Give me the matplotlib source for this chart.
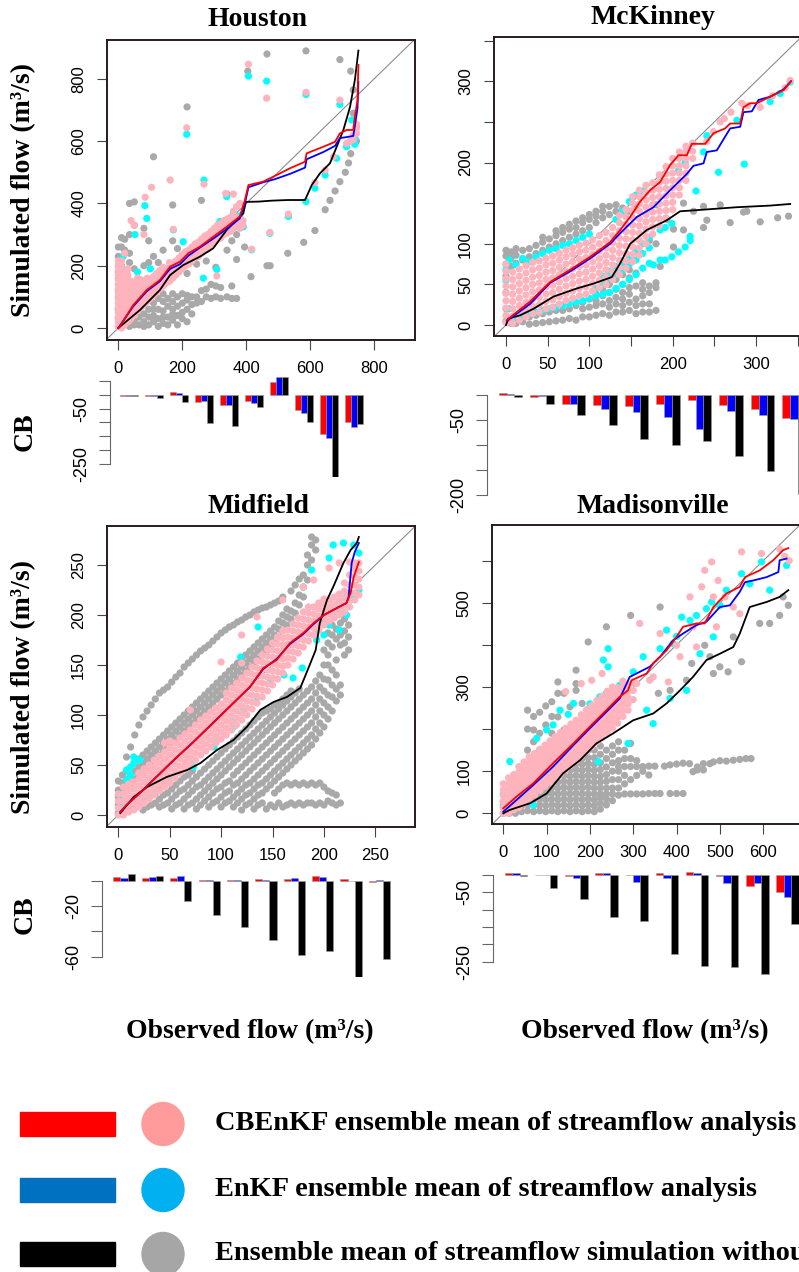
import matplotlib
matplotlib.use('Agg')
import matplotlib.pyplot as plt
from matplotlib.patches import Rectangle, Ellipse
import numpy as np

plt.rcParams['font.family'] = ['Liberation Sans', 'DejaVu Sans']

# ---------------- DATA ----------------
# Houston  (observed x : list of simulated y)
hou_gray = {0: [5, 30, 60, 120, 180, 230, 260], 10: [15, 60, 100, 140, 200, 260, 290],
            20: [15, 40, 90, 170, 250, 285], 35: [5, 30, 50, 210, 240, 300, 400],
            50: [10, 25, 130, 190, 330, 405], 65: [10, 35, 60, 100, 150], 80: [5, 20, 45, 75, 200, 320],
            95: [10, 35, 60, 90, 210, 280], 110: [20, 40, 60, 80, 110, 230, 550],
            125: [5, 30, 60, 95, 135, 210], 140: [15, 35, 55, 85, 110, 250], 155: [10, 35, 70, 95, 190],
            170: [25, 45, 60, 85, 110, 280, 395], 185: [10, 40, 70, 100, 255], 200: [30, 50, 80, 110, 235],
            215: [20, 60, 90, 105, 175, 710], 230: [45, 75, 100, 215], 245: [80, 100, 205],
            260: [85, 120, 410], 275: [100, 125, 215], 290: [95, 140], 305: [100, 135, 195],
            320: [95, 130, 290], 340: [100, 250, 430], 355: [95, 135, 280], 370: [95, 220, 300],
            395: [260], 405: [825], 415: [165], 465: [880, 200], 475: [200], 530: [240], 580: [275],
            587: [890], 615: [313], 647: [380], 662: [410], 678: [440], 693: [470, 862], 710: [500],
            720: [530], 727: [825, 560], 735: [605, 765, 690], 745: [645, 600]}
hou_cyan = {0: [60, 100, 160, 200], 5: [130], 15: [40, 230], 25: [80, 185], 40: [60, 110], 52: [300],
            60: [90, 180], 83: [393, 110], 89: [352], 100: [130, 190], 120: [150], 140: [160],
            160: [180], 172: [315], 180: [200], 203: [277, 220], 214: [622], 230: [240], 260: [260],
            266: [160], 268: [475], 290: [290], 308: [188], 318: [342, 320], 339: [422, 345],
            360: [368, 355], 380: [360], 391: [325], 407: [809], 417: [251], 464: [793], 474: [304],
            532: [358], 587: [750, 406], 615: [449], 647: [491], 683: [545], 693: [718], 714: [582],
            730: [668, 600], 740: [610, 590]}
hou_pink = {0: [5, 20, 35, 50, 65, 80, 95, 110, 125, 140, 155, 170, 185, 200, 215],
            10: [0, 15, 30, 45, 60, 75, 90, 105, 120, 135, 150, 165, 180, 195, 215],
            20: [10, 25, 40, 55, 70, 85, 100, 115, 130, 145, 160, 175, 240],
            30: [20, 35, 50, 65, 80, 95, 110, 125, 140, 155, 170, 190],
            40: [30, 45, 60, 75, 90, 105, 120, 135, 150, 345], 50: [40, 55, 70, 85, 100, 115, 130, 145, 330],
            60: [55, 70, 85, 100, 115, 130, 145, 160], 70: [65, 80, 95, 110, 125, 140, 155],
            80: [75, 90, 105, 120, 135, 150, 300], 84: [420], 90: [85, 100, 115, 130, 145, 160],
            100: [95, 110, 125, 140, 155], 104: [452], 110: [105, 120, 135, 150, 165],
            120: [115, 130, 145, 160, 175], 130: [125, 140, 155, 170, 185], 140: [135, 150, 165, 180, 195],
            150: [145, 160, 175, 190], 160: [150, 165, 180, 195, 210], 162: [475], 170: [160, 175, 190, 205],
            172: [317], 180: [170, 185, 200, 215], 190: [180, 195, 210, 225], 200: [190, 205, 220, 235],
            210: [200, 215, 230, 245], 214: [643], 220: [205, 220, 235, 250], 230: [215, 230, 245, 260],
            240: [225, 240, 255, 270], 250: [230, 245, 260, 275], 260: [240, 255, 270, 285], 268: [462],
            270: [250, 265, 280, 295], 280: [255, 270, 285, 300], 290: [265, 280, 295, 310],
            300: [275, 290, 305, 320], 308: [167], 310: [285, 300, 315, 330], 320: [290, 305, 320, 335],
            330: [300, 315, 330, 345], 336: [432], 340: [305, 320, 335, 350], 350: [310, 325, 340, 355],
            360: [320, 335, 350, 375, 430], 370: [325, 340, 355, 390], 380: [320, 335, 350, 400],
            390: [330, 345], 407: [847], 417: [253], 464: [738], 474: [307], 532: [365], 587: [757],
            615: [467], 647: [507], 673: [550], 693: [732], 714: [593], 725: [600], 735: [605, 620],
            745: [625, 640, 655]}
hou_red = [(0, 0), (5, 5), (47, 74), (89, 122), (130, 154), (162, 197), (193, 213), (219, 240), (255, 261),
           (297, 293), (339, 325), (380, 358), (396, 411), (407, 459), (453, 470), (485, 486), (537, 513),
           (584, 534), (589, 561), (641, 582), (678, 598), (693, 625), (714, 636), (735, 636), (740, 679),
           (748, 732), (751, 845)]
hou_blue = [(0, 0), (47, 70), (89, 118), (130, 150), (162, 190), (193, 205), (219, 232), (255, 258),
            (297, 287), (339, 318), (380, 352), (396, 400), (407, 452), (453, 468), (490, 478), (537, 495),
            (584, 515), (589, 542), (641, 565), (678, 585), (693, 610), (714, 613), (735, 617), (740, 650),
            (748, 705), (751, 790)]
hou_black = [(0, 0), (68, 58), (130, 122), (162, 170), (203, 202), (255, 229), (297, 256), (339, 315),
             (370, 347), (391, 368), (399, 405), (440, 406), (480, 409), (530, 411), (584, 411), (605, 459),
             (631, 497), (662, 529), (683, 582), (704, 636), (725, 711), (740, 797), (751, 891)]

# McKinney
mck_gray = {0: [5, 20, 40, 60, 75, 85, 92], 6: [2, 72, 82, 90], 12: [2, 76, 86, 94], 20: [4, 80, 92],
            28: [1, 10, 84, 94], 36: [2, 12, 88, 98], 44: [3, 14, 92, 102, 108], 52: [4, 16, 96, 106],
            60: [5, 18, 100, 110, 116], 68: [6, 18, 104, 114, 120], 76: [8, 20, 108, 118, 124],
            84: [6, 24, 112, 120, 128], 92: [10, 20, 28, 116, 126, 132], 100: [10, 22, 32, 120, 130, 136],
            108: [12, 24, 30, 38, 126, 134, 140], 116: [14, 26, 36, 44, 58, 132, 140, 146],
            124: [12, 22, 30, 40, 50, 64, 136, 146], 132: [16, 26, 34, 44, 56, 70, 140, 148],
            140: [16, 24, 32, 40, 50, 62, 76, 144], 148: [18, 28, 38, 46, 58, 68, 84, 140],
            156: [14, 24, 32, 48, 64, 145], 164: [16, 26, 36, 44, 52], 172: [16, 26, 40, 48, 104],
            180: [18, 46, 52, 100, 148], 185: [72], 193: [130], 201: [96, 118], 213: [117, 150],
            225: [140], 237: [120, 146], 241: [129], 257: [148], 269: [126], 285: [139], 289: [140],
            305: [127], 326: [132], 339: [134]}
mck_cyan = {0: [55, 68], 4: [20, 80], 12: [74, 8], 20: [82, 12], 28: [78, 14], 36: [84, 16], 44: [88, 18],
            52: [92, 20], 60: [94, 22], 68: [98, 24], 76: [100, 26], 84: [104, 28], 92: [108, 30],
            100: [112, 33], 108: [36, 45], 116: [38, 50, 60], 124: [40, 58, 66], 132: [45, 62, 72, 130],
            140: [50, 68, 78, 140], 148: [56, 75, 85, 152], 156: [62, 80, 92, 160], 164: [70, 88, 100, 165],
            172: [76, 95, 108], 177: [74], 185: [80, 184, 117], 191: [80, 120], 199: [84, 125],
            207: [90, 190], 215: [96, 200], 221: [109, 104], 228: [165], 237: [213], 241: [233],
            255: [188], 277: [252], 286: [198], 317: [275], 329: [285], 341: [299]}
mck_pink = {0: [3, 12, 21, 30, 39, 48, 57, 66, 75], 8: [2, 11, 20, 29, 38, 47, 56, 65],
            16: [6, 15, 24, 33, 42, 51, 60, 69], 24: [10, 19, 28, 37, 46, 55, 64, 73],
            32: [14, 23, 32, 41, 50, 59, 68, 77], 40: [16, 25, 34, 43, 52, 61, 70, 79],
            48: [20, 29, 38, 47, 56, 65, 74, 82], 56: [22, 31, 40, 49, 58, 67, 76, 85],
            64: [26, 35, 44, 53, 62, 71, 80, 88], 72: [30, 39, 48, 57, 66, 75, 84, 92],
            80: [33, 42, 51, 60, 69, 78, 87, 95], 88: [36, 45, 54, 63, 72, 81, 90, 98],
            96: [38, 47, 56, 65, 74, 83, 92, 101], 104: [42, 51, 60, 69, 78, 87, 96, 105],
            112: [46, 55, 64, 73, 82, 91, 100, 110], 120: [50, 59, 68, 77, 86, 95, 104, 114],
            128: [56, 65, 74, 83, 92, 101, 110, 120], 136: [62, 71, 80, 89, 98, 107, 116, 126, 135],
            144: [70, 79, 88, 97, 106, 115, 124, 133, 142],
            152: [78, 87, 96, 105, 114, 123, 132, 141, 150, 158],
            160: [86, 95, 104, 113, 122, 131, 140, 149, 158, 166],
            168: [100, 109, 118, 127, 136, 145, 154, 163, 172], 176: [112, 121, 130, 139, 148, 157, 166, 175],
            184: [122, 131, 140, 149, 158, 167, 176, 185], 192: [132, 141, 150, 159, 168, 177, 186, 195],
            200: [142, 151, 160, 169, 178, 187, 196, 205], 208: [160, 169, 178, 187, 196, 205, 213],
            216: [178, 187, 196, 205, 214, 220], 224: [205, 214, 224], 241: [226], 249: [238], 257: [250],
            262: [254], 270: [262], 283: [273], 290: [270], 305: [268], 320: [282], 335: [292], 341: [301]}
mck_red = [(1, 6), (13, 16), (29, 29), (53, 53), (77, 68), (101, 84), (125, 102), (137, 117), (149, 133),
           (161, 152), (173, 166), (185, 176), (197, 197), (207, 209), (217, 209), (223, 223), (239, 223),
           (249, 236), (263, 242), (269, 248), (281, 248), (285, 268), (293, 273), (301, 273), (317, 281),
           (333, 289), (342, 300)]
mck_blue = [(1, 5), (13, 14), (29, 26), (53, 52), (77, 66), (101, 82), (125, 100), (137, 113), (157, 133),
            (177, 145), (197, 166), (209, 178), (217, 186), (225, 196), (237, 199), (241, 213), (253, 215),
            (269, 242), (281, 244), (285, 262), (295, 263), (303, 277), (317, 281), (333, 290), (342, 300)]
mck_black = [(0, 0), (3, 8), (17, 12), (33, 20), (57, 35), (85, 45), (105, 51), (127, 59), (137, 76),
             (149, 100), (169, 117), (193, 129), (209, 140), (237, 142), (277, 145), (317, 147), (341, 149)]

# Midfield
mid_gray = {0: [2, 10, 18, 25, 34], 4: [6, 14, 24, 32, 40], 8: [4, 12, 28, 36, 44, 58],
            12: [8, 16, 32, 40, 48, 68], 16: [10, 18, 36, 44, 52, 80], 20: [12, 20, 40, 48, 56, 90],
            24: [5, 14, 22, 44, 52, 60, 98], 28: [8, 18, 48, 56, 64, 104], 32: [10, 20, 52, 60, 68, 110],
            36: [12, 22, 56, 64, 72, 116], 40: [8, 16, 26, 60, 68, 76, 122], 44: [10, 20, 30, 64, 72, 80, 125],
            48: [12, 22, 34, 68, 76, 84, 128], 52: [6, 16, 26, 72, 80, 88, 133], 56: [10, 20, 30, 76, 84, 92, 138],
            60: [12, 24, 34, 80, 88, 96, 142], 64: [6, 16, 26, 38, 84, 92, 100, 148],
            68: [10, 20, 30, 40, 88, 96, 104, 152], 72: [12, 24, 34, 44, 92, 100, 108, 156],
            76: [6, 16, 28, 38, 96, 104, 112, 160], 80: [10, 20, 30, 42, 100, 108, 116, 164],
            84: [14, 24, 34, 46, 104, 112, 120, 167], 88: [8, 18, 28, 38, 50, 108, 116, 124, 170],
            92: [12, 22, 32, 42, 54, 112, 120, 128, 174], 96: [14, 26, 36, 46, 58, 116, 124, 132, 178],
            100: [8, 18, 28, 40, 50, 62, 120, 128, 136, 182], 104: [12, 22, 32, 44, 54, 66, 124, 132, 140, 185],
            108: [14, 24, 34, 48, 58, 70, 128, 136, 144, 188],
            112: [8, 18, 30, 40, 52, 62, 74, 132, 140, 148, 190],
            116: [12, 22, 32, 44, 56, 66, 78, 136, 144, 152, 193],
            120: [5, 16, 26, 36, 48, 60, 70, 82, 140, 148, 156, 195],
            124: [10, 20, 30, 40, 52, 64, 74, 86, 144, 152, 160, 198],
            128: [12, 22, 32, 44, 56, 68, 78, 90, 148, 156, 164, 200],
            132: [6, 16, 26, 36, 48, 60, 72, 82, 94, 152, 160, 168, 203],
            136: [10, 20, 30, 40, 52, 64, 76, 86, 98, 156, 164, 172, 205],
            140: [12, 22, 32, 44, 56, 68, 80, 90, 102, 160, 168, 176, 207],
            144: [6, 26, 36, 48, 60, 72, 84, 94, 104, 164, 172, 180, 208],
            148: [10, 30, 40, 52, 64, 76, 88, 98, 106, 168, 176, 184, 210],
            152: [8, 22, 34, 44, 56, 68, 80, 92, 102, 110, 172, 180, 188, 212],
            156: [12, 26, 38, 48, 60, 72, 84, 96, 106, 112, 178, 186, 194, 214],
            160: [8, 30, 42, 52, 64, 76, 88, 100, 110, 116, 184, 192, 200, 218],
            164: [10, 32, 46, 56, 68, 80, 92, 104, 114, 120, 190, 198, 206],
            168: [12, 30, 50, 60, 72, 84, 96, 108, 118, 124, 196, 204, 224],
            172: [10, 32, 54, 64, 76, 88, 100, 112, 122, 202, 212, 230],
            176: [12, 30, 58, 68, 80, 92, 104, 116, 126, 210, 220, 236],
            180: [10, 32, 62, 72, 84, 96, 108, 120, 218, 228, 240],
            184: [12, 30, 66, 76, 88, 100, 112, 124, 235, 250, 260],
            188: [12, 32, 70, 80, 92, 104, 116, 128, 255, 270, 278],
            192: [10, 30, 76, 86, 98, 110, 122, 134, 265, 275], 196: [12, 32, 82, 92, 104, 116, 128, 140],
            200: [10, 28, 88, 100, 112, 124, 136, 150, 165], 204: [14, 24, 96, 108, 120, 135, 150, 160, 172, 182],
            208: [12, 22, 104, 118, 130, 145, 168, 180, 190], 212: [10, 20, 114, 126, 140, 155, 176, 186],
            216: [12, 120, 130, 170, 180, 192], 220: [160, 172, 184, 196], 224: [165, 178, 190]}
mid_cyan = {3: [10, 20], 8: [35, 45], 12: [40, 48], 15: [52, 58], 21: [55], 28: [18], 34: [22], 54: [38],
            73: [55, 48], 93: [75, 68], 112: [95, 88], 119: [158], 122: [105], 135: [118], 136: [188],
            148: [132], 161: [168, 140], 170: [137], 179: [147], 180: [228], 188: [245], 193: [185, 175],
            200: [180, 195], 205: [257, 190], 209: [270, 200], 215: [205, 185], 219: [272], 222: [200],
            226: [215], 229: [270, 220], 234: [262, 225]}
mid_pink = {0: [0, 7, 14, 21], 5: [0, 7, 14, 21, 28], 10: [3, 10, 17, 24, 31], 15: [5, 12, 19, 26, 33],
            20: [8, 15, 22, 29, 36, 42], 25: [12, 19, 26, 33, 40, 46], 30: [16, 23, 30, 37, 44, 50],
            35: [20, 27, 34, 41, 48, 55], 40: [24, 31, 38, 45, 52, 59], 45: [28, 35, 42, 49, 56, 63, 72],
            50: [32, 39, 46, 53, 60, 67, 74], 55: [37, 44, 51, 58, 65, 72], 60: [42, 49, 56, 63, 70, 77],
            65: [46, 53, 60, 67, 74, 81], 70: [50, 57, 64, 71, 78, 85, 105], 75: [55, 62, 69, 76, 83, 90],
            80: [60, 67, 74, 81, 88, 95], 85: [64, 71, 78, 85, 92, 99], 90: [68, 75, 82, 89, 96, 103],
            95: [72, 79, 86, 93, 100, 107], 100: [76, 83, 90, 97, 104, 111, 153],
            105: [80, 87, 94, 101, 108, 115, 122], 110: [85, 92, 99, 106, 113, 120, 127],
            115: [90, 97, 104, 111, 118, 125, 132], 120: [95, 102, 109, 116, 123, 130, 137, 152, 180],
            125: [100, 107, 114, 121, 128, 135, 142], 130: [106, 113, 120, 127, 134, 141, 148],
            135: [112, 119, 126, 133, 140, 147, 154, 198], 140: [118, 125, 132, 139, 146, 153, 160],
            145: [124, 131, 138, 145, 152, 159, 166], 150: [130, 137, 144, 151, 158, 165, 172],
            155: [136, 143, 150, 157, 164, 171, 178], 160: [142, 149, 156, 163, 170, 177, 184, 215],
            165: [150, 157, 164, 171, 178, 185], 170: [156, 163, 170, 177, 184, 191],
            175: [162, 169, 176, 183, 190, 197], 180: [168, 175, 182, 189, 196, 203, 228],
            185: [174, 181, 188, 195, 202, 208], 190: [180, 187, 194, 201, 208, 235],
            195: [185, 192, 199, 206, 212], 200: [190, 197, 204, 211, 216], 205: [194, 201, 208, 215, 247],
            210: [197, 204, 211, 218], 215: [200, 207, 214, 221, 252], 220: [203, 210, 217, 224, 232],
            225: [208, 215, 222, 230, 240, 253], 230: [215, 222, 230, 238, 246, 252],
            234: [220, 228, 236, 244, 252]}
mid_red = [(2, 3), (8, 10), (21, 22), (37, 38), (54, 55), (73, 73), (93, 93), (112, 112), (128, 128),
           (141, 147), (154, 155), (167, 172), (180, 182), (190, 192), (200, 200), (209, 205), (222, 212),
           (226, 222), (229, 238), (234, 253)]
mid_blue = [(2, 3), (8, 10), (21, 22), (37, 38), (54, 55), (73, 73), (93, 93), (112, 112), (128, 128),
            (141, 146), (154, 156), (167, 171), (180, 181), (190, 191), (200, 200), (209, 205), (222, 212),
            (224, 218), (227, 252), (230, 263), (234, 272)]
mid_black = [(2, 2), (15, 18), (28, 28), (47, 38), (67, 45), (80, 52), (96, 65), (112, 75), (125, 88),
             (138, 105), (151, 113), (164, 118), (177, 127), (183, 142), (192, 165), (196, 192), (203, 215),
             (209, 228), (219, 252), (226, 265), (232, 272), (234, 278)]

# Madisonville
mad_gray = {0: [0, 14, 28], 14: [0, 14, 28, 42], 28: [0, 14, 28, 42, 56], 42: [4, 18, 32, 46, 60, 80],
            56: [6, 20, 34, 48, 62, 90, 150, 200, 245], 70: [4, 18, 32, 46, 60, 100, 130, 170, 198, 230],
            84: [6, 20, 34, 48, 62, 76, 110, 150, 190, 240],
            98: [4, 18, 32, 46, 60, 74, 88, 120, 160, 210, 255],
            112: [6, 20, 34, 48, 62, 76, 90, 104, 190, 230, 265],
            126: [4, 18, 32, 46, 60, 74, 88, 102, 116, 229, 285, 312],
            140: [6, 20, 34, 48, 62, 76, 90, 104, 118, 132, 198, 285],
            154: [4, 18, 32, 46, 60, 74, 88, 102, 116, 130, 253],
            168: [6, 20, 34, 48, 62, 76, 90, 104, 118, 132, 146, 292, 308, 340],
            182: [4, 18, 32, 46, 60, 74, 88, 102, 116, 130, 144, 261],
            196: [6, 20, 34, 47, 62, 76, 90, 104, 118, 132, 150, 407],
            210: [4, 18, 32, 46, 60, 74, 88, 102, 116, 132, 150],
            224: [10, 24, 38, 46, 60, 74, 88, 104, 120, 140, 160], 238: [20, 34, 46, 60, 76, 92, 110, 130, 150, 443],
            252: [30, 46, 60, 80, 100, 120, 140, 160], 266: [43, 60, 80, 100, 111, 125, 150, 170],
            280: [46, 70, 90, 111, 130, 150], 294: [46, 80, 111, 130, 166, 470], 308: [46, 90, 111, 125],
            322: [46, 100, 111], 336: [47, 91, 112], 350: [47, 112], 358: [285], 362: [490, 47], 372: [112],
            385: [115, 292, 47], 400: [47, 117], 415: [47, 119], 423: [316], 430: [118], 435: [356],
            438: [99], 448: [103, 110], 462: [103, 118], 465: [399], 477: [372, 118], 485: [332, 122],
            500: [125, 348], 515: [124], 519: [336], 531: [419, 126], 546: [128], 550: [360], 560: [130],
            572: [130], 592: [451], 615: [451], 638: [470], 646: [514], 658: [494]}
mad_cyan = {0: [20, 45], 15: [123, 71], 30: [60], 45: [90], 69: [20], 77: [178], 100: [198, 150], 115: [210],
            131: [245], 150: [235], 162: [261], 177: [166], 200: [245, 260], 219: [123], 223: [277],
            231: [364], 238: [285, 240], 242: [391, 348], 255: [280], 269: [304], 288: [166, 300],
            300: [336], 323: [372], 331: [245], 346: [213], 362: [391], 377: [435], 385: [273], 392: [403],
            400: [420], 412: [466], 423: [292], 431: [458], 446: [470], 454: [379], 469: [486], 481: [502],
            485: [419], 500: [494], 515: [530], 550: [569], 569: [545], 596: [597], 615: [530], 654: [589]}
mad_pink = {0: [0, 14, 28, 42, 56, 70], 12: [0, 14, 28, 42, 56, 70, 84], 24: [8, 22, 36, 50, 64, 78, 92],
            36: [14, 28, 42, 56, 70, 84, 98, 111], 48: [24, 38, 52, 66, 80, 94, 108, 122],
            60: [34, 48, 62, 76, 90, 104, 118, 134], 72: [44, 58, 72, 86, 100, 114, 128, 142],
            84: [54, 68, 82, 96, 110, 124, 138, 152], 96: [64, 78, 92, 106, 120, 134, 148, 162],
            108: [74, 88, 102, 116, 130, 144, 158, 172], 120: [84, 98, 112, 126, 140, 154, 168, 182],
            132: [94, 108, 122, 136, 150, 164, 178, 192], 144: [104, 118, 132, 146, 160, 174, 188, 202, 289],
            156: [114, 128, 142, 156, 170, 184, 198, 212], 168: [124, 138, 152, 166, 180, 194, 208, 221],
            180: [136, 150, 164, 178, 192, 206, 220, 234, 308], 192: [148, 162, 176, 190, 204, 218, 232, 246],
            204: [158, 172, 186, 200, 214, 228, 242, 256, 316], 216: [170, 184, 198, 212, 226, 240, 254, 268],
            228: [180, 194, 208, 222, 236, 250, 264, 278, 332], 240: [192, 206, 220, 234, 248, 262, 276, 290],
            252: [202, 216, 230, 244, 258, 272, 286, 300], 264: [214, 228, 242, 256, 270, 284, 298],
            276: [230, 244, 258, 272, 286, 300, 314], 288: [245, 260, 275, 290, 305], 300: [270, 292, 310],
            308: [308], 315: [451], 338: [316], 346: [324], 362: [427], 381: [312], 400: [399], 408: [372],
            431: [514], 438: [443], 446: [395], 458: [538], 465: [577], 481: [597], 485: [514], 492: [443],
            496: [553], 512: [514], 531: [490], 546: [474], 550: [621], 596: [617], 638: [628], 650: [610],
            660: [600]}
mad_red = [(0, 12), (31, 40), (69, 71), (115, 119), (162, 166), (200, 206), (238, 245), (269, 277), (288, 292),
           (296, 316), (331, 332), (346, 356), (377, 387), (400, 419), (415, 443), (446, 451), (465, 451),
           (485, 490), (515, 522), (546, 538), (558, 561), (592, 577), (623, 601), (646, 625), (658, 630)]
mad_blue = [(0, 4), (31, 32), (69, 67), (115, 111), (162, 162), (200, 202), (238, 241), (269, 273), (292, 324),
            (338, 348), (362, 372), (392, 411), (415, 427), (446, 447), (469, 455), (500, 490), (523, 494),
            (546, 526), (558, 549), (577, 553), (608, 561), (635, 573), (638, 601), (654, 605)]
mad_black = [(0, 0), (15, 8), (62, 24), (100, 47), (138, 95), (177, 126), (215, 166), (254, 190), (300, 221),
             (346, 237), (377, 261), (408, 292), (438, 324), (469, 364), (500, 379), (531, 395), (546, 427),
             (569, 490), (608, 502), (638, 514), (658, 530)]

# CB bars (10 flow classes each)
hou_cb_red = [-2, -2, 10, -27, -36, -21, 49, -55, -142, -100]
hou_cb_blue = [-2, -4, 7, -22, -36, -28, 67, -64, -158, -115]
hou_cb_black = [-3, -10, -24, -103, -113, -45, 67, -100, -297, -107]
mck_cb_red = [3, -5, -18, -21, -23, -18, -10, -20, -28, -46]
mck_cb_blue = [2, -2, -18, -28, -35, -45, -68, -33, -41, -49]
mck_cb_black = [-5, -18, -41, -61, -89, -101, -93, -123, -153, -198]
mid_cb_red = [2.6, 1.8, 1.8, 0.5, 0.2, 1.3, 1.3, 4, 1.6, -1.3]
mid_cb_blue = [1.8, 3.2, 4, 0.3, 0.2, 0.5, 1.8, 2.6, -0.3, 0.5]
mid_cb_black = [5, 3.7, -15.8, -27, -36.3, -46.8, -58.7, -55.5, -75.8, -61.8]
mad_cb_red = [6.7, -1, -3, 4.8, -1, 6.7, 9.6, -2, -30.7, -50]
mad_cb_blue = [6.7, -1, -7.7, 6.7, -19, -7.7, 6.7, -24, -24, -64]
mad_cb_black = [-2, -36.5, -69, -120, -131.5, -227.5, -262, -264, -286, -141]

legend_labels = ["CBEnKF ensemble mean of streamflow analysis",
                 "EnKF ensemble mean of streamflow analysis",
                 "Ensemble mean of streamflow simulation without data assimilation"]

# ---------------- LAYOUT ----------------
W, H = 799, 1272
fig = plt.figure(figsize=(W / 100, H / 100), dpi=100)
SERIF = ['Liberation Serif', 'DejaVu Serif']
FRAME = '#2a1a20'


def rect(l, t, r, b):
    return [l / W, 1 - b / H, (r - l) / W, (b - t) / H]


def ftext(x, y, s, **kw):
    fig.text(x / W, 1 - y / H, s, **kw)


def unpack(d):
    xs = [x for x, ys in d.items() for _ in ys]
    ys = [y for _, yy in d.items() for y in yy]
    return xs, ys


def scatter_panel(box, xlim, ylim, ticks, xlabels, ylabels, gray, cyan, pink, black, blue, red):
    ax = fig.add_axes(rect(*box))
    ax.set_xlim(xlim)
    ax.set_ylim(ylim)
    ax.axline((0, 0), slope=1, color='#8c8c8c', lw=0.8, zorder=1)
    for d, c, z in [(gray, '#a9a9a9', 2), (cyan, '#00ffff', 3), (pink, '#ffb3bd', 4)]:
        xs, ys = unpack(d)
        ax.scatter(xs, ys, s=27, c=c, edgecolors='none', zorder=z)
    for ln, c, z in [(black, 'black', 5), (blue, '#0000ff', 6), (red, '#ff0000', 7)]:
        ax.plot([p[0] for p in ln], [p[1] for p in ln], color=c, lw=1.3, zorder=z)
    ax.set_xticks(ticks)
    ax.set_xticklabels(xlabels)
    ax.set_yticks(ticks)
    ax.set_yticklabels(ylabels, rotation=90, va='center')
    ax.tick_params(length=7, width=0.8, color='#444444', pad=8, labelsize=12)
    for sp in ax.spines.values():
        sp.set_color(FRAME)
        sp.set_linewidth(1.4)
    return ax


def bar_panel(box, xlim, ylim, red, blue, black, yticks, ylabels):
    ax = fig.add_axes(rect(*box))
    idx = np.arange(len(red))
    w = 0.25
    for off, vals, c in [(-w, red, '#ff0000'), (0, blue, '#0000ff'), (w, black, '#000000')]:
        ax.bar(idx + off, vals, w, color=c, edgecolor='#9a9a9a', linewidth=0.4)
    ax.set_xlim(xlim)
    ax.set_ylim(ylim)
    for s in ['top', 'right', 'bottom']:
        ax.spines[s].set_visible(False)
    ax.spines['left'].set_bounds(min(yticks), max(yticks))
    ax.spines['left'].set_color('#666666')
    ax.set_xticks([])
    ax.set_yticks(yticks)
    ax.set_yticklabels(ylabels, rotation=90, va='center')
    ax.tick_params(axis='y', length=8, width=0.8, color='#666666', pad=6, labelsize=13)
    ax.patch.set_alpha(0)
    return ax


# Scatter panels
scatter_panel((107, 40, 415, 340), (-35.4, 928), (-38.6, 925), [0, 200, 400, 600, 800],
              ['0', '200', '400', '600', '800'], ['0', '200', '400', '600', '800'],
              hou_gray, hou_cyan, hou_pink, hou_black, hou_blue, hou_red)
scatter_panel((494, 37, 802, 336), (-14.4, 355.2), (-13.5, 354.5), [0, 50, 100, 150, 200, 250, 300, 350],
              ['0', '50', '100', '', '200', '', '300', ''], ['0', '50', '100', '', '200', '', '300', ''],
              mck_gray, mck_cyan, mck_pink, mck_black, mck_blue, mck_red)
scatter_panel((107, 526, 415, 827), (-11, 288.6), (-12, 289), [0, 50, 100, 150, 200, 250],
              ['0', '50', '100', '150', '200', '250'], ['0', '50', '100', '150', '200', '250'],
              mid_gray, mid_cyan, mid_pink, mid_black, mid_blue, mid_red)
scatter_panel((492.3, 525, 800, 824), (-25.4, 685), (-25.4, 684.8), [0, 100, 200, 300, 400, 500, 600],
              ['0', '100', '200', '300', '400', '500', '600'], ['0', '100', '', '300', '', '500', ''],
              mad_gray, mad_cyan, mad_pink, mad_black, mad_blue, mad_red)

# CB bar panels
bar_panel((110, 376.6, 415, 477.4), (-0.76, 11.44), (-300, 67), hou_cb_red, hou_cb_blue, hou_cb_black,
          [50, 0, -50, -100, -150, -200, -250], ['', '', '-50', '', '', '', '-250'])
bar_panel((487, 393, 830, 495.5), (-0.746, 10.14), (-201, 4), mck_cb_red, mck_cb_blue, mck_cb_black,
          [0, -50, -100, -150, -200], ['', '-50', '', '', '-200'])
bar_panel((101.7, 873.7, 415, 977), (-0.785, 10.25), (-76, 5.5), mid_cb_red, mid_cb_blue, mid_cb_black,
          [0, -20, -40, -60], ['', '-20', '', '-60'])
bar_panel((492.7, 871.5, 830, 974.6), (-0.773, 10.41), (-287, 10), mad_cb_red, mad_cb_blue, mad_cb_black,
          [0, -50, -100, -150, -200, -250], ['', '-50', '', '', '', '-250'])

# Titles and labels
tkw = dict(family=SERIF, weight='bold', fontsize=20, ha='center', va='center')
ftext(258, 20, 'Houston', **tkw)
ftext(653, 18, 'McKinney', **tkw)
ftext(258, 506, 'Midfield', **tkw)
ftext(653, 506, 'Madisonville', **tkw)
ftext(24, 190, 'Simulated flow (m³/s)', rotation=90, **tkw)
ftext(24, 687, 'Simulated flow (m³/s)', rotation=90, **tkw)
ftext(25, 432, 'CB', rotation=90, **tkw)
ftext(25, 915, 'CB', rotation=90, **tkw)
ftext(250, 1032, 'Observed flow (m³/s)', **tkw)
ftext(645, 1032, 'Observed flow (m³/s)', **tkw)

# Legend
leg_rect_colors = ['#ff0000', '#0070c0', '#000000']
leg_dot_colors = ['#ff9b9b', '#00b0f0', '#a6a6a6']
leg_y = [1124, 1190, 1254]
for yc, rc, dc, lab in zip(leg_y, leg_rect_colors, leg_dot_colors, legend_labels):
    fig.patches.append(Rectangle((20 / W, 1 - (yc + 12) / H), 95 / W, 24 / H,
                                 transform=fig.transFigure, color=rc))
    fig.patches.append(Ellipse((163 / W, 1 - yc / H), 42 / W, 43 / H,
                               transform=fig.transFigure, color=dc))
    ftext(215, yc, lab, family=SERIF, weight='bold', fontsize=20.4, ha='left', va='center')

fig.savefig('out.png', dpi=100)
